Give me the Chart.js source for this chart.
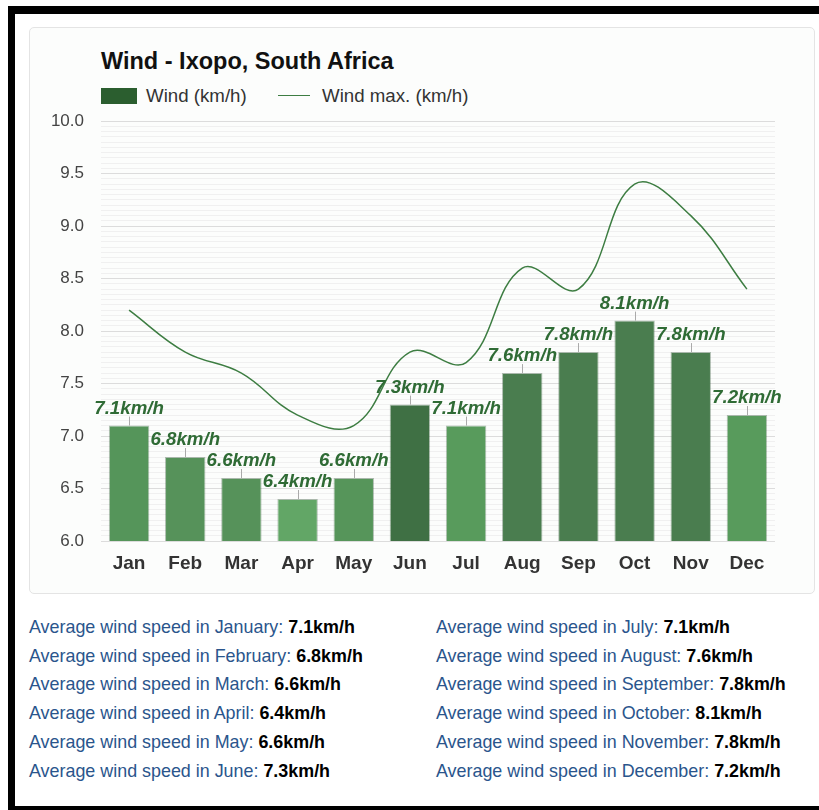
<!DOCTYPE html>
<html>
<head>
<meta charset="utf-8">
<script src="https://cdn.jsdelivr.net/npm/chart.js@4.4.1/dist/chart.umd.min.js"></script>
<style>
body{margin:0;background:#fff;font-family:"Liberation Sans",Arial,sans-serif;width:819px;height:810px;overflow:hidden;position:relative}
.frame{position:absolute;left:8px;top:6px;width:830px;height:792px;border-left:7px solid #000;border-top:8px solid #000;border-bottom:4px solid #000}
.card{position:absolute;left:29px;top:27px;width:784px;height:565px;border:1px solid #e4e4e4;border-radius:5px;background:#fcfdfc}
.title{position:absolute;left:101px;top:48px;font-weight:bold;font-size:23.5px;color:#111}
.legend{position:absolute;left:101px;top:86px;font-size:18.7px;color:#333;height:20px}
.legend span{position:absolute;white-space:nowrap;top:0;line-height:20px}
.box{left:0;top:2px !important;width:36px;height:16px;background:#2b5e2f}
.ln{left:177px;top:9px !important;width:32px;height:0;border-top:1.5px solid #3d7d42}
#wrap{position:absolute;left:30px;top:94px;width:784px;height:496px}
.list{position:absolute;top:613px;font-size:17.9px;line-height:28.7px;color:#2a558c}
.list b{color:#000}
</style>
</head>
<body>
<div class="frame"></div>
<div class="card"></div>
<div class="title">Wind - Ixopo, South Africa</div>
<div class="legend">
  <span class="box"></span><span style="left:45px">Wind (km/h)</span>
  <span class="ln"></span><span style="left:221px">Wind max. (km/h)</span>
</div>
<div id="wrap"><canvas id="windChart" width="784" height="496"></canvas></div>
<div class="list" id="listLeft" style="left:29px"></div>
<div class="list" id="listRight" style="left:436px"></div>
<script>
// dữ liệu
const months = ['Jan', 'Feb', 'Mar', 'Apr', 'May', 'Jun', 'Jul', 'Aug', 'Sep', 'Oct', 'Nov', 'Dec'];
const monthNames = ['January', 'February', 'March', 'April', 'May', 'June', 'July', 'August', 'September', 'October', 'November', 'December'];
const windAvg = [7.1, 6.8, 6.6, 6.4, 6.6, 7.3, 7.1, 7.6, 7.8, 8.1, 7.8, 7.2];
const windMax = [8.2, 7.8, 7.6, 7.2, 7.1, 7.8, 7.7, 8.6, 8.4, 9.4, 9.1, 8.4];
const barColors = ['#55955a', '#56925a', '#56925a', '#62a666', '#56955a', '#3f7044',
                   '#589b5c', '#4a7d4f', '#4a7d4f', '#4a7d4f', '#4a7d4f', '#589b5c'];
const yMin = 6, yMax = 10, yStep = 0.05;

// danh sách bên dưới biểu đồ
const left = document.getElementById('listLeft');
const right = document.getElementById('listRight');
monthNames.forEach((m, i) => {
    const row = document.createElement('div');
    row.innerHTML = 'Average wind speed in ' + m + ': <b>' + windAvg[i].toFixed(1) + 'km/h</b>';
    (i < 6 ? left : right).appendChild(row);
});

const isMajor = v => Math.abs(v * 2 - Math.round(v * 2)) < 1e-6;

// nhãn giá trị trên cột
const barLabels = {
    id: 'barLabels',
    afterDatasetsDraw(chart) {
        const ctx = chart.ctx;
        const meta = chart.getDatasetMeta(0);
        ctx.save();
        meta.data.forEach((bar, i) => {
            const x = Math.round(bar.x) + 0.5;
            ctx.strokeStyle = '#aaaaaa';
            ctx.lineWidth = 1;
            ctx.beginPath();
            ctx.moveTo(x, bar.y - 9);
            ctx.lineTo(x, bar.y);
            ctx.stroke();
            ctx.font = 'italic bold 18.7px "Liberation Sans", Arial, sans-serif';
            ctx.fillStyle = '#2f6b35';
            ctx.textAlign = 'center';
            ctx.textBaseline = 'alphabetic';
            ctx.fillText(windAvg[i].toFixed(1) + 'km/h', bar.x, bar.y - 12);
        });
        ctx.restore();
    }
};

const windChart = new Chart(document.getElementById('windChart'), {
    type: 'bar',
    data: {
        labels: months,
        datasets: [{
            label: 'Wind (km/h)',
            data: windAvg,
            backgroundColor: barColors,
            borderColor: 'rgba(40, 80, 45, 0.35)',
            borderWidth: 1,
            order: 2
        }, {
            type: 'line',
            label: 'Wind max. (km/h)',
            data: windMax,
            borderColor: '#3d7d42',
            borderWidth: 1.5,
            pointRadius: 0,
            tension: 0.4,
            order: 1
        }]
    },
    options: {
        responsive: false,
        animation: false,
        layout: { padding: { top: 4, right: 39, left: 0, bottom: 0 } },
        plugins: {
            legend: { display: false },
            title: { display: false },
            tooltip: { enabled: false }
        },
        scales: {
            x: {
                grid: { display: false, drawTicks: false },
                border: { display: false },
                ticks: {
                    color: '#333',
                    padding: 11,
                    font: { family: '"Liberation Sans", Arial, sans-serif', size: 19, weight: 'bold' }
                },
                afterFit: s => { s.height = 49; }
            },
            y: {
                min: yMin,
                max: yMax,
                border: { display: false },
                grid: {
                    drawTicks: false,
                    color: c => isMajor(c.tick.value) ? '#dcdcdc' : '#f0f0f0'
                },
                ticks: {
                    stepSize: yStep,
                    autoSkip: false,
                    padding: 17,
                    color: '#444',
                    font: { family: '"Liberation Sans", Arial, sans-serif', size: 17 },
                    callback: v => isMajor(v) ? v.toFixed(1) : ''
                },
                afterFit: s => { s.width = 71; }
            }
        }
    },
    plugins: [barLabels]
});
</script>
</body>
</html>
